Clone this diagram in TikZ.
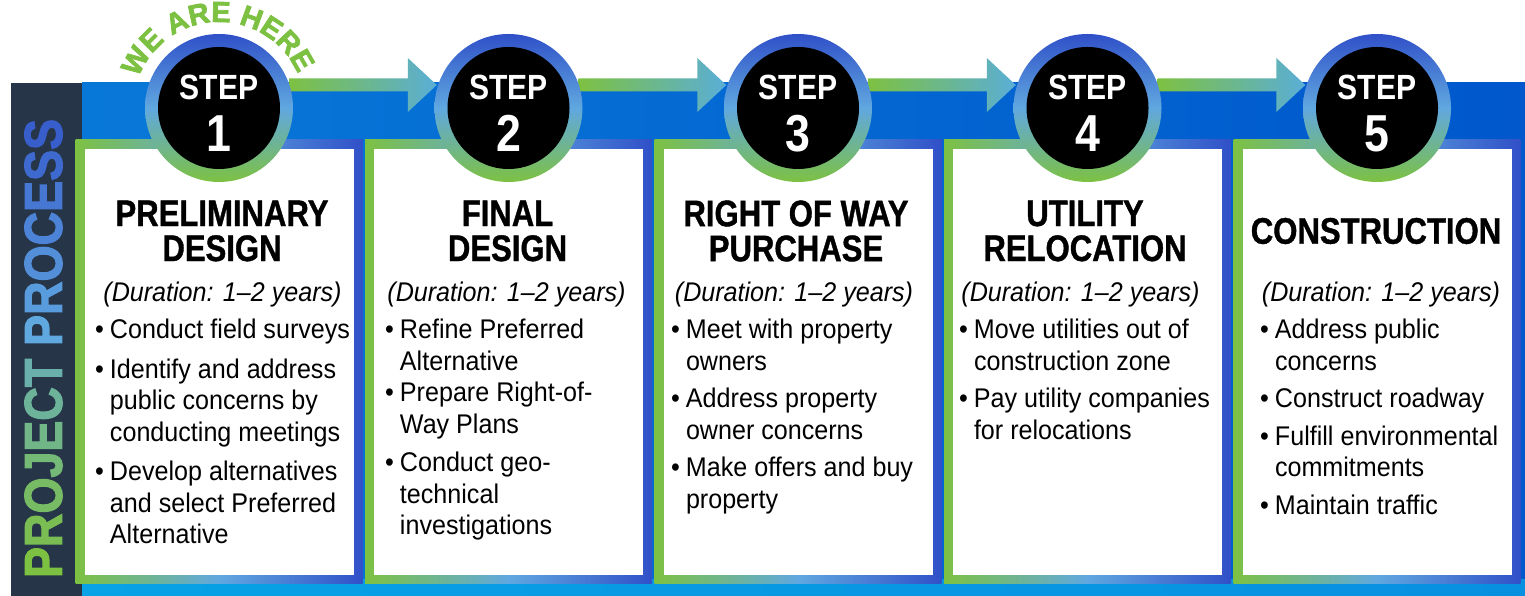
\documentclass[tikz,border=0pt]{standalone}
\usepackage{fontspec}
\usepackage{graphicx}
\setmainfont{Liberation Sans}
\newfontfamily\headfont{Liberation Sans}[FakeStretch=0.84, FakeBold=1]
\newfontfamily\bodyfont{Liberation Sans}[FakeStretch=0.93]
\newfontfamily\stepfont{Liberation Sans}[FakeStretch=0.86]
\newfontfamily\bannerfont{Liberation Sans Bold}[FakeBold=2.5]
\newfontfamily\herefont{Liberation Sans Bold}[FakeBold=2.5]
\usetikzlibrary{calc}

\definecolor{wegreen}{HTML}{7DC142}
\definecolor{midblue}{HTML}{60A8E0}
\definecolor{deepblue}{HTML}{3050C8}
\definecolor{navy}{HTML}{263548}
\definecolor{bandleft}{HTML}{0878D8}
\definecolor{bandright}{HTML}{0058CC}
\definecolor{floorleft}{HTML}{08A2E6}
\definecolor{floorright}{HTML}{0890E0}
\definecolor{arrowtip}{HTML}{5AAED6}

\pgfdeclarelayer{backdrop}
\pgfdeclarelayer{links}
\pgfsetlayers{backdrop,links,main}

% side banner letters, green to blue
\newcommand\procletters{%
  \foreach \ch [count=\k from 0] in {P,R,O,J,E,C,T}{\pgfmathtruncatemacro\pc{\k*11}\textcolor{midblue!\pc!wegreen}{\ch}}%
  \ %
  \foreach \ch [count=\k from 0] in {P,R,O,C,E,S,S}{\pgfmathtruncatemacro\pc{\k*14}\textcolor{deepblue!\pc!midblue}{\ch}}}

\begin{document}
\begin{tikzpicture}[x=1pt, y=1pt,
  frame/.style={rectangle, inner sep=0pt, minimum width=287pt, minimum height=444pt,
    left color=wegreen, right color=deepblue, middle color=midblue},
  card/.style={rectangle, fill=white, inner sep=0pt, minimum width=269pt, minimum height=426pt},
  ring/.style={circle, inner sep=0pt, minimum size=148pt,
    top color=deepblue, bottom color=wegreen, middle color=midblue},
  disc/.style={circle, fill=black, inner sep=0pt, minimum size=122pt},
  steplbl/.style={anchor=base, inner sep=0pt, text=white, font=\stepfont\bfseries\fontsize{35}{35}\selectfont},
  stepnum/.style={anchor=base, inner sep=0pt, text=white, font=\stepfont\bfseries\fontsize{52}{52}\selectfont},
  weletter/.style={anchor=base, inner sep=0pt, text=wegreen, font=\herefont\fontsize{29}{29}\selectfont},
  heading/.style={inner sep=0pt, align=center, font=\headfont\bfseries\fontsize{37}{35}\selectfont},
  duration/.style={anchor=base, inner sep=0pt, font=\bodyfont\itshape\fontsize{27}{31.5}\selectfont},
  blist/.style={anchor=base west, inner sep=0pt, font=\bodyfont\fontsize{27}{31.5}\selectfont},
  link/.style={left color=wegreen, right color=arrowtip}]
		\useasboundingbox (0,0) rectangle (1525,596);
		% backdrop
		\begin{pgfonlayer}{backdrop}
		\shade[left color=bandleft, right color=bandright] (82,0) rectangle (1525,513);
		\shade[left color=floorleft, right color=floorright] (82,0) rectangle (1525,16);
		\fill[navy] (11,0) rectangle (82,513);
		\end{pgfonlayer}
		\node[rotate=90, inner sep=0pt] (banner) at (43.5,247.5)
		{\resizebox{459pt}{37pt}{\bannerfont\procletters}};
		% cards
		\node[frame] (f1) at (219,234) {};
		\node[frame] (f2) at (508.5,234) {};
		\node[frame] (f3) at (798,234) {};
		\node[frame] (f4) at (1087.5,234) {};
		\node[frame] (f5) at (1377,234) {};
		\node[card] (c1) at (f1) {};
		\node[card] (c2) at (f2) {};
		\node[card] (c3) at (f3) {};
		\node[card] (c4) at (f4) {};
		\node[card] (c5) at (f5) {};
		% step badges
		\node[ring] (s1) at (219,488) {};
		\node[ring] (s2) at (508.5,488) {};
		\node[ring] (s3) at (798,488) {};
		\node[ring] (s4) at (1087.5,488) {};
		\node[ring] (s5) at (1377,488) {};
		\node[disc] (k1) at (s1) {};
		\node[disc] (k2) at (s2) {};
		\node[disc] (k3) at (s3) {};
		\node[disc] (k4) at (s4) {};
		\node[disc] (k5) at (s5) {};
		\node[steplbl] (t1) at ($(s1)+(0,8)$) {STEP};
		\node[steplbl] (t2) at ($(s2)+(0,8)$) {STEP};
		\node[steplbl] (t3) at ($(s3)+(0,8)$) {STEP};
		\node[steplbl] (t4) at ($(s4)+(0,8)$) {STEP};
		\node[steplbl] (t5) at ($(s5)+(0,8)$) {STEP};
		\node[stepnum] (n1) at ($(s1)+(0,-44)$) {1};
		\node[stepnum] (n2) at ($(s2)+(0,-44)$) {2};
		\node[stepnum] (n3) at ($(s3)+(0,-44)$) {3};
		\node[stepnum] (n4) at ($(s4)+(0,-44)$) {4};
		\node[stepnum] (n5) at ($(s5)+(0,-44)$) {5};
		% arrows between badges
		\begin{pgfonlayer}{links}
		\shade[link] ($(s1.east)+(-4,16.5)$) -- ($(s2.west)+(-26.5,16.5)$) -- ($(s2.west)+(-26.5,-4)$)
		-- ($(s2.west)+(2.5,23)$) -- ($(s2.west)+(-26.5,50)$) -- ($(s2.west)+(-26.5,29.5)$) -- ($(s1.east)+(-4,29.5)$) -- cycle;
		\shade[link] ($(s2.east)+(-4,16.5)$) -- ($(s3.west)+(-26.5,16.5)$) -- ($(s3.west)+(-26.5,-4)$)
		-- ($(s3.west)+(2.5,23)$) -- ($(s3.west)+(-26.5,50)$) -- ($(s3.west)+(-26.5,29.5)$) -- ($(s2.east)+(-4,29.5)$) -- cycle;
		\shade[link] ($(s3.east)+(-4,16.5)$) -- ($(s4.west)+(-26.5,16.5)$) -- ($(s4.west)+(-26.5,-4)$)
		-- ($(s4.west)+(2.5,23)$) -- ($(s4.west)+(-26.5,50)$) -- ($(s4.west)+(-26.5,29.5)$) -- ($(s3.east)+(-4,29.5)$) -- cycle;
		\shade[link] ($(s4.east)+(-4,16.5)$) -- ($(s5.west)+(-26.5,16.5)$) -- ($(s5.west)+(-26.5,-4)$)
		-- ($(s5.west)+(2.5,23)$) -- ($(s5.west)+(-26.5,50)$) -- ($(s5.west)+(-26.5,29.5)$) -- ($(s4.east)+(-4,29.5)$) -- cycle;
		\end{pgfonlayer}
		% we are here, one letter at a time round badge 1
		\foreach \ch/\a [count=\i] in {W/150.5,E/135,A/116.2,R/102.2,E/88.8,H/70,E/56.6,R/43.2,E/29.8}
		\node[weletter, rotate=\a-90] (w\i) at ($(s1)+(\a:86)$) {\ch};
		% headings
		\node[heading] (h1) at (222,365) {PRELIMINARY\\DESIGN};
		\node[heading] (h2) at (507.5,365) {FINAL\\DESIGN};
		\node[heading] (h3) at (796,365) {RIGHT OF WAY\\PURCHASE};
		\node[heading] (h4) at (1085,365) {UTILITY\\RELOCATION};
		\node[heading] (h5) at (1376,365) {CONSTRUCTION};
		\node[duration] (d1) at (222.5,294) {(Duration: 1–2 years)};
		\node[duration] (d2) at (506.5,294) {(Duration: 1–2 years)};
		\node[duration] (d3) at (794,294) {(Duration: 1–2 years)};
		\node[duration] (d4) at (1080.5,294) {(Duration: 1–2 years)};
		\node[duration] (d5) at (1381,294) {(Duration: 1–2 years)};
		% bullet lists
		\node[blist] (l1) at (95,257) {\begin{tabular}[t]{@{}l@{\hspace{6pt}}l@{}}
		\textbullet & Conduct field surveys\\[8pt]
		\textbullet & Identify and address\\
		& public concerns by\\
		& conducting meetings\\[8pt]
		\textbullet & Develop alternatives\\
		& and select Preferred\\
		& Alternative
		\end{tabular}};
		\node[blist] (l2) at (385,257) {\begin{tabular}[t]{@{}l@{\hspace{6pt}}l@{}}
		\textbullet & Refine Preferred\\
		& Alternative\\
		\textbullet & Prepare Right-of-\\
		& Way Plans\\[7pt]
		\textbullet & Conduct geo-\\
		& technical\\
		& investigations
		\end{tabular}};
		\node[blist] (l3) at (671,257) {\begin{tabular}[t]{@{}l@{\hspace{6pt}}l@{}}
		\textbullet & Meet with property\\
		& owners\\[6pt]
		\textbullet & Address property\\
		& owner concerns\\[6pt]
		\textbullet & Make offers and buy\\
		& property
		\end{tabular}};
		\node[blist] (l4) at (959,257) {\begin{tabular}[t]{@{}l@{\hspace{6pt}}l@{}}
		\textbullet & Move utilities out of\\
		& construction zone\\[6pt]
		\textbullet & Pay utility companies\\
		& for relocations
		\end{tabular}};
		\node[blist] (l5) at (1260,257) {\begin{tabular}[t]{@{}l@{\hspace{6pt}}l@{}}
		\textbullet & Address public\\
		& concerns\\[6pt]
		\textbullet & Construct roadway\\[6pt]
		\textbullet & Fulfill environmental\\
		& commitments\\[6pt]
		\textbullet & Maintain traffic
		\end{tabular}};
\end{tikzpicture}
\end{document}
